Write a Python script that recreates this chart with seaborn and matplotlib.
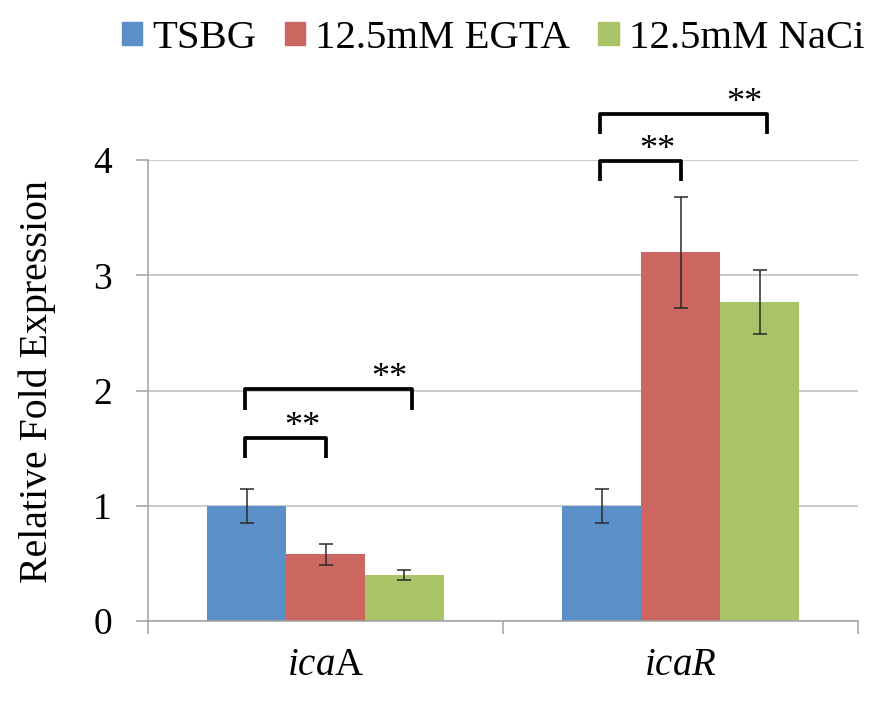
import numpy as np
import pandas as pd
import matplotlib
matplotlib.use('Agg')
import matplotlib.pyplot as plt
import seaborn as sns

# datos
genes = ['icaA', 'icaR']
conditions = ['TSBG', '12.5mM EGTA', '12.5mM NaCi']
means_icaA = [1.00, 0.58, 0.40]
means_icaR = [1.00, 3.20, 2.77]
errs_icaA = [0.15, 0.09, 0.04]
errs_icaR = [0.15, 0.48, 0.28]
colors = ['#5B8FC7', '#CC6660', '#A9C467']
# (gen, desde, hasta, altura del corchete, "**")
brackets = [
    (0, 0, 1, 1.59, '**'),
    (0, 0, 2, 2.01, '**'),
    (1, 0, 1, 3.99, '**'),
    (1, 0, 2, 4.40, '**'),
]

sns.set_theme(style='white')
plt.rcParams['font.family'] = ['Liberation Serif', 'DejaVu Serif']
plt.rcParams['text.color'] = 'black'
plt.rcParams['xtick.labelcolor'] = 'black'
plt.rcParams['ytick.labelcolor'] = 'black'
plt.rcParams['axes.labelcolor'] = 'black'
plt.rcParams['mathtext.fontset'] = 'custom'
plt.rcParams['mathtext.rm'] = 'Liberation Serif'
plt.rcParams['mathtext.it'] = 'Liberation Serif:italic'

df = pd.DataFrame({
    'gene': np.repeat(genes, len(conditions)),
    'condition': conditions * len(genes),
    'value': means_icaA + means_icaR,
    'err': errs_icaA + errs_icaR,
})

fig = plt.figure(figsize=(8.73, 7.05), dpi=100)
ax = fig.add_axes([0.1695, 0.119, 0.8135, 0.654])

sns.barplot(data=df, x='gene', y='value', hue='condition', hue_order=conditions,
            palette=colors, width=0.667, ax=ax, errorbar=None, legend=False,
            saturation=1, linewidth=0)

# barras de error y centros de barra
bar_conts = list(ax.containers)
centers = {}
for ci, cont in enumerate(bar_conts):
    for gi, bar in enumerate(cont.patches):
        cx = bar.get_x() + bar.get_width() / 2
        centers[(gi, ci)] = cx
        row = df[(df.gene == genes[gi]) & (df.condition == conditions[ci])].iloc[0]
        ax.errorbar(cx, row.value, yerr=row.err, fmt='none', ecolor='#2a2a2a',
                    elinewidth=1.1, capsize=5, capthick=1.1)

# corchetes de significancia
for gi, c0, c1, h, label in brackets:
    x0 = centers[(gi, c0)] - 0.004
    x1 = centers[(gi, c1)] + (0.022 if c1 == 2 else 0.0)
    leg = 0.175
    ax.plot([x0, x0, x1, x1], [h - leg, h, h, h - leg], color='black', lw=2.7,
            solid_joinstyle='round', solid_capstyle='butt', clip_on=False)
    ax.text(x1 - 0.065, h - 0.05, label, ha='center', va='bottom',
            fontsize=26, clip_on=False)

ax.set_ylim(0, 4)
ax.set_xlim(-0.5, 1.5)
ax.set_yticks([0, 1, 2, 3, 4])
ax.yaxis.grid(True, color='#BDBDBD', lw=1.1)
ax.set_axisbelow(True)
ax.set_xticks([0, 1])
ax.set_xticklabels([r'$\mathit{ica}\mathrm{A}$', r'$\mathit{icaR}$'], fontsize=28)
ax.set_xticks([-0.5, 0.5, 1.5], minor=True)
ax.tick_params(axis='x', which='major', length=0, pad=19)
ax.tick_params(axis='x', which='minor', length=9, width=1.1, color='#A0A0A0',
               direction='out', bottom=True)
ax.tick_params(axis='y', length=9, width=1.1, color='#A0A0A0', direction='out',
               left=True, pad=17, labelsize=27)
for s in ['top', 'right']:
    ax.spines[s].set_visible(False)
for s in ['left', 'bottom']:
    ax.spines[s].set_color('#A0A0A0')
    ax.spines[s].set_linewidth(1.1)
ax.set_xlabel('')
ax.set_ylabel('Relative Fold Expression', fontsize=28.7, labelpad=27, y=0.52)

handles = [plt.Rectangle((0, 0), 1, 1, color=c) for c in colors]
fig.legend(handles, conditions, loc='upper center', bbox_to_anchor=(0.565, 1.0),
           ncol=3, frameon=False, fontsize=29.3, handlelength=0.5, handleheight=0.5,
           handletextpad=0.25, columnspacing=0.69, borderaxespad=0.1)

fig.savefig('out.png', dpi=100)
